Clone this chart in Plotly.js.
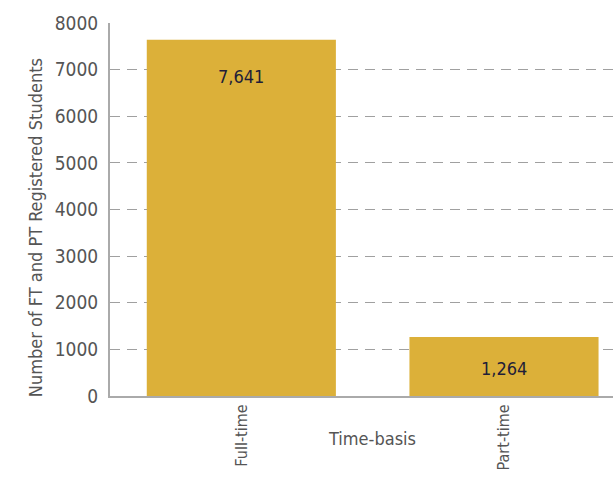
<!DOCTYPE html>
<html>
<head>
<meta charset="utf-8">
<script src="https://cdn.plot.ly/plotly-3.0.1.min.js"></script>
<style>
  html, body { margin: 0; padding: 0; background: #fff; }
  #chart { width: 613px; height: 491px; }
</style>
</head>
<body>
<div id="chart"></div>
<script>
// Registered students by time-basis
const categories = ["Full-time", "Part-time"];
const students = [7641, 1264];
const yTicks = [0, 1000, 2000, 3000, 4000, 5000, 6000, 7000, 8000];

const FONT = "'Liberation Sans Narrow', 'DejaVu Sans Condensed', 'Arial Narrow', sans-serif";
const fmt = v => v.toLocaleString("en-US");
// vertical offset of each value label below its bar top (px)
const labelDrop = [-37, -31];

const trace = {
  type: "bar",
  x: categories,
  y: students,
  width: 0.72,
  marker: { color: "#DCB039" },
  hoverinfo: "x+y"
};

// value labels sit inside each bar, a little below its top
const labels = categories.map((c, i) => ({
  x: c, y: students[i], xref: "x", yref: "y",
  text: fmt(students[i]), showarrow: false,
  yanchor: "middle", yshift: labelDrop[i],
  font: { family: FONT, size: 18, color: "#221D38" }
}));

// axis titles
labels.push({
  xref: "paper", yref: "paper", x: 0.52, y: -0.115,
  xanchor: "center", yanchor: "middle",
  text: "Time-basis", showarrow: false,
  font: { family: FONT, size: 18, color: "#555" }
});
labels.push({
  xref: "paper", yref: "paper", x: -0.149, y: 0.45,
  xanchor: "center", yanchor: "middle", textangle: -90,
  text: "Number of FT and PT Registered Students", showarrow: false,
  font: { family: FONT, size: 18, color: "#555" }
});

const layout = {
  width: 613, height: 491,
  margin: { l: 110, r: 0, t: 23, b: 95 },
  paper_bgcolor: "#fff", plot_bgcolor: "#fff",
  showlegend: false,
  font: { family: FONT, color: "#555" },
  xaxis: {
    type: "category",
    range: [-0.5, 1.415],
    tickangle: -90,
    tickfont: { family: FONT, size: 16, color: "#555" },
    showline: true, linecolor: "#AAAAAA", linewidth: 2,
    ticks: "", showgrid: false, zeroline: false
  },
  yaxis: {
    range: [0, 8000],
    tickvals: yTicks,
    ticktext: yTicks.map(String),
    tickfont: { family: FONT, size: 19, color: "#555" },
    showline: true, linecolor: "#AAAAAA", linewidth: 2,
    showgrid: true, gridcolor: "#A0A0A0", gridwidth: 1, griddash: "10px,7px",
    ticks: "outside", ticklen: 6, tickcolor: "rgba(0,0,0,0)",
    zeroline: false
  },
  annotations: labels
};

Plotly.newPlot("chart", [trace], layout, { displayModeBar: false, staticPlot: true });
</script>
</body>
</html>
